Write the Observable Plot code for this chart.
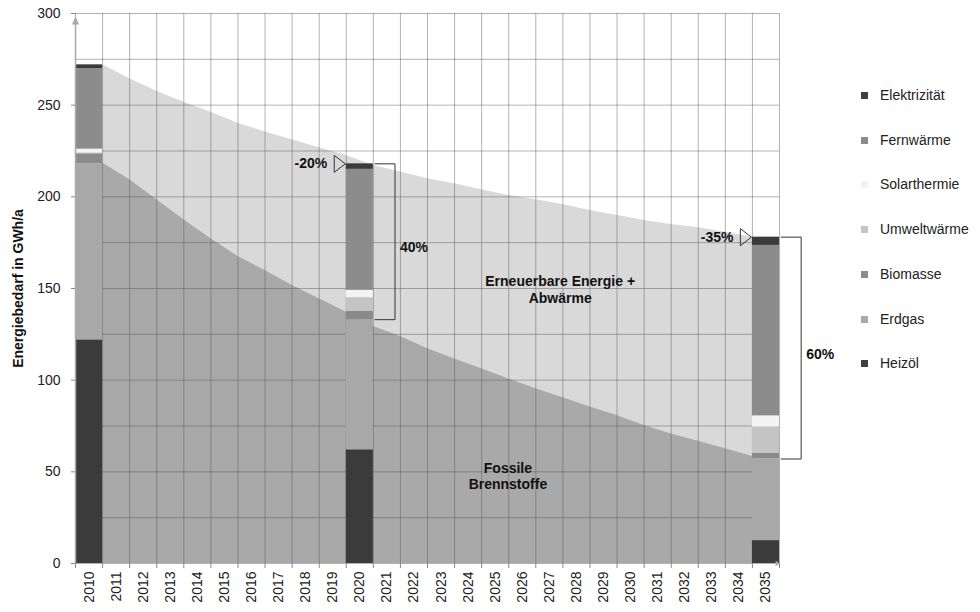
<!DOCTYPE html>
<html><head><meta charset="utf-8">
<script src="https://cdn.jsdelivr.net/npm/d3@7"></script>
<script src="https://cdn.jsdelivr.net/npm/@observablehq/plot@0.6"></script>
<style>
body{margin:0;background:#fff;font-family:"Liberation Sans",Arial,sans-serif;}
#wrap{position:relative;width:980px;height:612px;}
#legend{position:absolute;left:861px;top:0;width:119px;height:612px;}
.item{position:absolute;left:0;white-space:nowrap;font-size:14px;line-height:16px;color:#222;}
.sw{display:inline-block;width:7px;height:7px;margin-right:12px;vertical-align:1px;}
</style></head><body><div id="wrap"><div id="legend"></div></div>
<script>
// ---- data ----
const years = d3.range(2010, 2036);
const barYears = [2010, 2020, 2035];
const categories = ["Heizöl","Erdgas","Biomasse","Umweltwärme","Solarthermie","Fernwärme","Elektrizität"];
const colors = ["#3b3b3b","#a8a8a8","#8a8a8a","#c4c4c4","#f3f3f3","#8c8c8c","#3b3b3b"];
const heizoel      = [122, 62, 12.5];
const erdgas       = [96, 71, 44.5];
const biomasse     = [5.5, 4.5, 3];
const umweltwaerme = [0.5, 7.5, 14.5];
const solarthermie = [2, 4, 6];
const fernwaerme   = [44, 66, 93];
const elektrizitaet= [2, 3, 4.5];
// curve values at the end of each year 2010..2034
const curveYears = d3.range(2010, 2035);
const totalCurve = [272, 264.4, 257.6, 251.6, 246.2, 240.2, 235.3, 231.1, 226.8, 222.6, 217.1, 213.5, 209.8, 207.1, 203.8, 200.7, 198.4, 195.8, 192.5, 189.8, 187.1, 184.9, 183.1, 180.7, 178];
const fossilCurve = [218.4, 209.3, 198.4, 187.5, 177.1, 167.5, 159.8, 151.6, 144.4, 137.1, 129.3, 123.8, 117.1, 111.6, 106.2, 100.7, 95.3, 90.4, 85.3, 80.7, 75.3, 70.7, 66.7, 62.6, 58.4];
const yTicks = [0, 50, 100, 150, 200, 250, 300];
const markerYears = [2020, 2035];
const changeLabels = ["-20%", "-35%"];
const shareLabels = ["40%", "60%"];
const areaLabels = ["Erneuerbare Energie +\nAbwärme", "Fossile\nBrennstoffe"];
const areaLabelX = [2027.4, 2025.47];
const areaLabelY = [149.5, 48];
const yTitle = "Energiebedarf in GWh/a";

// ---- derived tables ----
const seriesValues = [heizoel, erdgas, biomasse, umweltwaerme, solarthermie, fernwaerme, elektrizitaet];
const barData = barYears.flatMap((yr, j) => {
  let acc = 0;
  return categories.map((c, i) => {
    const v = seriesValues[i][j];
    const d = {year: yr, category: c, y1: acc, y2: acc + v};
    acc += v;
    return d;
  });
});
const totals = barYears.map((yr, j) => d3.sum(seriesValues, s => s[j]));
const fossils = barYears.map((yr, j) => heizoel[j] + erdgas[j]);
const curveData = curveYears.map((yr, i) => ({x: yr + 0.5, total: totalCurve[i], fossil: fossilCurve[i]}));
const bounds = d3.range(years[0] - 0.5, years[years.length - 1] + 1, 1);
const gridY = d3.range(0, 301, 25);
const markers = markerYears.map(yr => {
  const j = barYears.indexOf(yr);
  return {year: yr, total: totals[j], fossil: fossils[j]};
});
const bracketPts = markers.flatMap((m, k) => [
  {k, x: m.year + 0.56, y: m.total},
  {k, x: m.year + 1.3, y: m.total},
  {k, x: m.year + 1.3, y: m.fossil},
  {k, x: m.year + 0.56, y: m.fossil}
]);
const rightTri = {draw(ctx, size) { const r = Math.sqrt(size / Math.PI); ctx.moveTo(0, 0); ctx.lineTo(-1.3 * r, -r); ctx.lineTo(-1.3 * r, r); ctx.closePath(); }};
const upTri = {draw(ctx, size) { const r = Math.sqrt(size / Math.PI); ctx.moveTo(0, -r); ctx.lineTo(r * 0.9, r); ctx.lineTo(-r * 0.9, r); ctx.closePath(); }};

const font = '"Liberation Sans", Arial, sans-serif';
const chart = Plot.plot({
  width: 980, height: 612,
  marginLeft: 75, marginRight: 201, marginTop: 13, marginBottom: 49,
  x: {domain: [years[0] - 0.5, years[years.length - 1] + 0.5]},
  y: {domain: [0, 300]},
  color: {domain: categories, range: colors},
  style: {fontFamily: font, fontSize: "14px", color: "#222", background: "white", overflow: "visible"},
  marks: [
    Plot.areaY(curveData, {x: "x", y1: 0, y2: "total", fill: "#d9d9d9"}),
    Plot.areaY(curveData, {x: "x", y1: 0, y2: "fossil", fill: "#a9a9a9"}),
    Plot.ruleY(gridY, {x1: bounds[0], x2: bounds[bounds.length - 1], stroke: "#555", strokeOpacity: 0.45}),
    Plot.ruleX(bounds, {y1: 0, y2: 300, stroke: "#555", strokeOpacity: 0.45}),
    Plot.rect(barData, {x1: d => d.year - 0.5, x2: d => d.year + 0.5, y1: "y1", y2: "y2", fill: "category"}),
    Plot.ruleX([bounds[0]], {y1: 0, y2: 297, stroke: "#aaa", strokeWidth: 1.5}),
    Plot.dot([bounds[0]], {x: d => d, y: 300, symbol: upTri, r: 4, fill: "#aaa", dy: 7}),
    Plot.dot([bounds[bounds.length - 1]], {x: d => d, y: 0, symbol: rightTri, r: 3, fill: "#aaa", dy: 0}),
    Plot.axisY({ticks: yTicks, tickSize: 4, tickPadding: 11, stroke: "#888", fill: "#222", fontSize: 14, label: null}),
    Plot.axisX({ticks: bounds, tickSize: 5, tickFormat: () => "", stroke: "#888", label: null}),
    Plot.axisX({ticks: years, tickSize: 0, tickPadding: 8, tickRotate: -90, tickFormat: d => String(d), fill: "#222", fontSize: 14, label: null}),
    Plot.text([yTitle], {frameAnchor: "left", textAnchor: "middle", dx: -57, rotate: -90, fontWeight: "bold", fontSize: 14, fill: "#111"}),
    Plot.dot(markers, {x: d => d.year - 0.5, y: "total", symbol: rightTri, r: 8.5, stroke: "#333", strokeWidth: 1, fill: "none", dx: -1}),
    Plot.text(markers, {x: d => d.year - 0.5, y: "total", text: (d, i) => changeLabels[i], textAnchor: "end", dx: -19, fontWeight: "bold", fontSize: 14, fill: "#111"}),
    Plot.line(bracketPts, {x: "x", y: "y", z: "k", stroke: "#333", strokeWidth: 1}),
    Plot.text(markers, {x: d => d.year + 1.3, y: d => (d.total + d.fossil) / 2, text: (d, i) => shareLabels[i], textAnchor: "start", dx: 5, dy: 6, fontWeight: "bold", fontSize: 14, fill: "#111"}),
    Plot.text(areaLabels, {x: (d, i) => areaLabelX[i], y: (d, i) => areaLabelY[i], text: d => d, lineHeight: 1.19, fontWeight: "bold", fontSize: 14, fill: "#111"})
  ]
});
document.getElementById("wrap").prepend(chart);

// legend (top to bottom = reverse stacking order)
const legend = document.getElementById("legend");
const legendColors = ["#3f3f3f","#8c8c8c","#f2f2f2","#c4c4c4","#8c8c8c","#a9a9a9","#3f3f3f"];
categories.slice().reverse().forEach((c, i) => {
  const div = document.createElement("div");
  div.className = "item";
  div.style.top = (95 + 44.7 * i - 8) + "px";
  div.innerHTML = `<span class="sw" style="background:${legendColors[i]}"></span>${c}`;
  legend.appendChild(div);
});
</script></body></html>
